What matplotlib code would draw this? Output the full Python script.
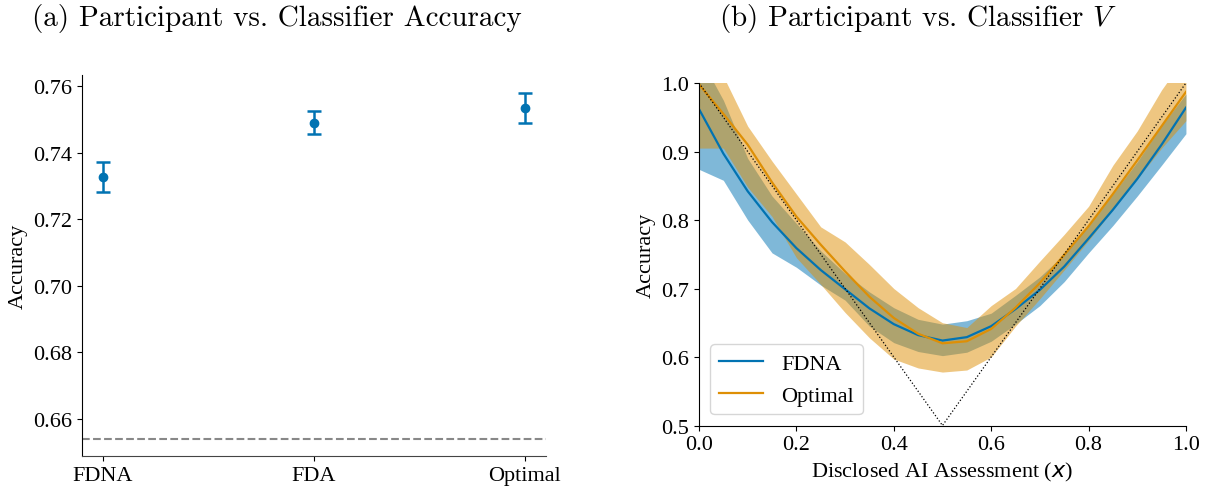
import matplotlib
matplotlib.use("Agg")
import matplotlib.pyplot as plt
import numpy as np

plt.rcParams['font.family'] = ['Liberation Serif', 'DejaVu Serif']
plt.rcParams['mathtext.fontset'] = 'cm'

# (a) accuracy per condition
conds = ['FDNA', 'FDA', 'Optimal']
acc = [0.7327, 0.7490, 0.7533]
acc_lo = [0.7282, 0.7456, 0.7488]
acc_hi = [0.7373, 0.7526, 0.7580]
baseline = 0.6539

# (b) accuracy vs disclosed AI assessment
xs = [0.0, 0.05, 0.1, 0.15, 0.2, 0.25, 0.3, 0.35, 0.4, 0.45, 0.5,
      0.55, 0.6, 0.65, 0.7, 0.75, 0.8, 0.85, 0.9, 0.95, 1.0]
fdna = [0.962, 0.897, 0.842, 0.797, 0.759, 0.727, 0.699, 0.671, 0.648, 0.632, 0.624,
        0.629, 0.645, 0.670, 0.698, 0.732, 0.773, 0.815, 0.860, 0.910, 0.964]
fdna_lo = [0.874, 0.858, 0.800, 0.752, 0.731, 0.705, 0.683, 0.645, 0.621, 0.608, 0.602,
           0.607, 0.623, 0.648, 0.675, 0.710, 0.752, 0.792, 0.835, 0.880, 0.926]
fdna_hi = [1.040, 0.975, 0.890, 0.835, 0.795, 0.755, 0.722, 0.695, 0.672, 0.655, 0.648,
           0.653, 0.664, 0.690, 0.717, 0.750, 0.792, 0.838, 0.885, 0.938, 0.984]
optimal = [0.998, 0.955, 0.910, 0.855, 0.805, 0.764, 0.725, 0.688, 0.657, 0.634, 0.620,
           0.623, 0.641, 0.672, 0.708, 0.749, 0.791, 0.838, 0.887, 0.937, 0.987]
optimal_lo = [0.905, 0.905, 0.848, 0.805, 0.745, 0.706, 0.665, 0.628, 0.597, 0.584, 0.578,
              0.581, 0.600, 0.645, 0.685, 0.727, 0.770, 0.815, 0.860, 0.905, 0.945]
optimal_hi = [1.060, 1.010, 0.937, 0.886, 0.838, 0.790, 0.768, 0.735, 0.700, 0.672, 0.650,
              0.643, 0.675, 0.700, 0.740, 0.779, 0.820, 0.880, 0.930, 0.990, 1.040]
# classifier V reference
v_x = [0.0, 0.5, 1.0]
v_y = [1.0, 0.5, 1.0]

blue = '#0173b2'
orange = '#de8f05'

fig = plt.figure(figsize=(12.11, 4.89), dpi=100)
ax1 = fig.add_axes([0.0677, 0.0648, 0.3832, 0.7798])
ax2 = fig.add_axes([0.5772, 0.1278, 0.4021, 0.7004])

# --- left panel
pos = np.arange(len(conds))
yerr = [np.array(acc) - np.array(acc_lo), np.array(acc_hi) - np.array(acc)]
ax1.errorbar(pos, acc, yerr=yerr, fmt='o', color=blue, ms=6, elinewidth=1.8,
             capsize=5, capthick=1.8)
ax1.axhline(baseline, color='#888888', ls='--', lw=1.5)
ax1.set_xlim(-0.1, 2.1)
ax1.set_ylim(0.6487, 0.7633)
ax1.set_xticks(pos)
ax1.set_xticklabels(conds)
ax1.set_yticks([0.66, 0.68, 0.70, 0.72, 0.74, 0.76])
ax1.set_ylabel('Accuracy', fontsize=16)
ax1.tick_params(labelsize=16)
ax1.spines['top'].set_visible(False)
ax1.spines['right'].set_visible(False)
ax1.spines['bottom'].set_color('#444444')

# --- right panel
ax2.fill_between(xs, fdna_lo, fdna_hi, color=blue, alpha=0.5, lw=0)
ax2.fill_between(xs, optimal_lo, optimal_hi, color=orange, alpha=0.5, lw=0)
ax2.plot(xs, fdna, color=blue, lw=1.6, label='FDNA')
ax2.plot(xs, optimal, color=orange, lw=1.6, label='Optimal')
ax2.plot(v_x, v_y, color='black', ls=':', lw=0.9)
ax2.set_xlim(0, 1)
ax2.set_ylim(0.5, 1.0)
ax2.set_xticks([0.0, 0.2, 0.4, 0.6, 0.8, 1.0])
ax2.set_yticks([0.5, 0.6, 0.7, 0.8, 0.9, 1.0])
ax2.set_xlabel('Disclosed AI Assessment ($x$)', fontsize=16, math_fontfamily='dejavusans')
ax2.set_ylabel('Accuracy', fontsize=16)
ax2.tick_params(labelsize=16)
ax2.spines['top'].set_visible(False)
ax2.spines['right'].set_visible(False)
ax2.legend(loc='lower left', fontsize=16, handlelength=2.0)

fig.text(277 / 1211, 0.963, '(a) Participant vs. Classifier Accuracy',
         ha='center', va='center', fontsize=21, family='cmr10')
fig.text(918 / 1211, 0.963, '(b) Participant vs. Classifier $V$',
         ha='center', va='center', fontsize=21, family='cmr10')

fig.savefig('out.png', dpi=100)
